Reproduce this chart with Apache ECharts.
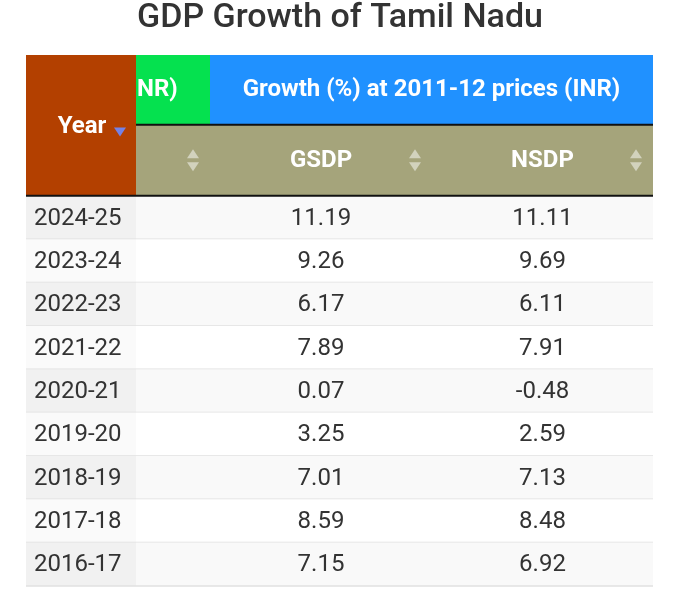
<!DOCTYPE html>
<html>
<head>
<meta charset="utf-8">
<script src="https://cdn.jsdelivr.net/npm/echarts@6/dist/echarts.min.js"></script>
<style>
html,body{margin:0;padding:0;background:#fff}
#main{width:680px;height:592px}
</style>
</head>
<body>
<div id="main"></div>
<script>
const chartTitle = 'GDP Growth of Tamil Nadu';
const years = ['2024-25','2023-24','2022-23','2021-22','2020-21','2019-20','2018-19','2017-18','2016-17'];
const gsdp = [11.19, 9.26, 6.17, 7.89, 0.07, 3.25, 7.01, 8.59, 7.15];
const nsdp = [11.11, 9.69, 6.11, 7.91, -0.48, 2.59, 7.13, 8.48, 6.92];
const groupHeaders = ['NR)', 'Growth (%) at 2011-12 prices (INR)'];
const columnHeaders = ['Year', '', 'GSDP', 'NSDP'];

// column edges, in px from the left of the table
const colEdges = [0, 110, 184, 406, 627];
// y axis runs in "row" units: data rows are 0..n, header above 0
const yMin = -3.25, yMax = 9.14, headSplit = -1.64;
const font = 'Roboto, "Noto Sans", sans-serif';

function cellRect(api, c0, c1, r0, r1) {
	let p0 = api.coord([colEdges[c0], r0]);
	let p1 = api.coord([colEdges[c1], r1]);
	return {x: p0[0], y: p0[1], width: p1[0] - p0[0], height: p1[1] - p0[1]};
}

function cellText(api) {
	let col = api.value(0), row = api.value(1);
	if (col == 0) return years[row];
	if (col == 2) return gsdp[row].toFixed(2);
	if (col == 3) return nsdp[row].toFixed(2);
	return '';
}

function renderBody(params, api) {
	let col = api.value(0), row = api.value(1);
	let r = cellRect(api, col, col + 1, row, row + 1);
	let odd = row % 2 == 0;
	let fill = odd ? '#f9f9f9' : '#ffffff';
	if (col == 0) fill = odd ? '#f1f1f1' : '#fafafa';
	return {
		type: 'group',
		children: [
			{type: 'rect', shape: r, style: {fill: fill}},
			{type: 'line', shape: {x1: r.x, y1: r.y + r.height, x2: r.x + r.width, y2: r.y + r.height},
				style: {stroke: '#e0e0e0', lineWidth: 1.5}},
			{type: 'text', style: {
				text: cellText(api),
				x: col == 0 ? r.x + 8 : r.x + r.width / 2,
				y: r.y + r.height / 2 + 1,
				align: col == 0 ? 'left' : 'center',
				verticalAlign: 'middle',
				fill: '#333333',
				fontSize: 24,
				fontFamily: font
			}}
		]
	};
}

function sortIcon(cx, cy) {
	let c = 'rgba(255,255,255,0.5)';
	return [
		{type: 'polygon', shape: {points: [[cx - 6, cy - 2], [cx + 6, cy - 2], [cx, cy - 11]]}, style: {fill: c}},
		{type: 'polygon', shape: {points: [[cx - 6, cy + 2], [cx + 6, cy + 2], [cx, cy + 11]]}, style: {fill: c}}
	];
}

function headText(text, x, y, align) {
	return {type: 'text', style: {
		text: text, x: x, y: y, align: align, verticalAlign: 'middle',
		fill: '#ffffff', fontSize: 24, fontWeight: 'bold', fontFamily: font
	}};
}

function renderHead(params, api) {
	let kids = [];
	// Year cell spans both header rows
	let yr = cellRect(api, 0, 1, yMin, 0);
	kids.push({type: 'rect', shape: yr, style: {fill: '#b34000'}});
	kids.push(headText(columnHeaders[0], yr.x + yr.width / 2 + 1, yr.y + yr.height / 2 + 2, 'center'));
	let tx = yr.x + yr.width - 16, ty = yr.y + yr.height / 2 + 6;
	kids.push({type: 'polygon', shape: {points: [[tx - 6, ty - 4], [tx + 6, ty - 4], [tx, ty + 5]]}, style: {fill: '#7482e6'}});
	// group header row
	let g1 = cellRect(api, 1, 2, yMin, headSplit);
	kids.push({type: 'rect', shape: g1, style: {fill: '#05e14f'}});
	kids.push(headText(groupHeaders[0], g1.x + 1, g1.y + g1.height / 2, 'left'));
	let g2 = cellRect(api, 2, 4, yMin, headSplit);
	kids.push({type: 'rect', shape: g2, style: {fill: '#2091ff'}});
	kids.push(headText(groupHeaders[1], g2.x + g2.width / 2, g2.y + g2.height / 2, 'center'));
	// column header row
	let h2 = cellRect(api, 1, 4, headSplit, 0);
	kids.push({type: 'rect', shape: h2, style: {fill: '#a5a47b'}});
	for (let c = 1; c < 4; c++) {
		let r = cellRect(api, c, c + 1, headSplit, 0);
		kids.push(headText(columnHeaders[c], r.x + r.width / 2, r.y + r.height / 2 + 1, 'center'));
		kids.push(...sortIcon(r.x + r.width - 17, r.y + r.height / 2));
	}
	// dark rules under the header rows
	kids.push({type: 'line', shape: {x1: g1.x, y1: g1.y + g1.height, x2: g2.x + g2.width, y2: g1.y + g1.height},
		style: {stroke: '#111111', lineWidth: 2}});
	kids.push({type: 'line', shape: {x1: yr.x, y1: yr.y + yr.height, x2: g2.x + g2.width, y2: yr.y + yr.height},
		style: {stroke: '#111111', lineWidth: 2}});
	return {type: 'group', children: kids};
}

let bodyData = [];
years.forEach(function(y, i) {
	for (let c = 0; c < 4; c++) bodyData.push([c, i]);
});

var myChart = echarts.init(document.getElementById('main'));
let option = {
	animation: false,
	title: {
		text: chartTitle,
		left: 'center',
		top: -4,
		textStyle: {fontFamily: font, fontSize: 34, fontWeight: 500, color: '#333333'}
	},
	grid: {left: 26, right: 27, top: 55, bottom: 0},
	xAxis: {type: 'value', min: 0, max: colEdges[colEdges.length - 1], show: false},
	yAxis: {type: 'value', min: yMin, max: yMax, inverse: true, show: false},
	series: [
		{type: 'custom', renderItem: renderBody, data: bodyData, silent: true},
		{type: 'custom', renderItem: renderHead, data: [[0, yMin]], silent: true}
	]
};
myChart.setOption(option);
</script>
</body>
</html>
